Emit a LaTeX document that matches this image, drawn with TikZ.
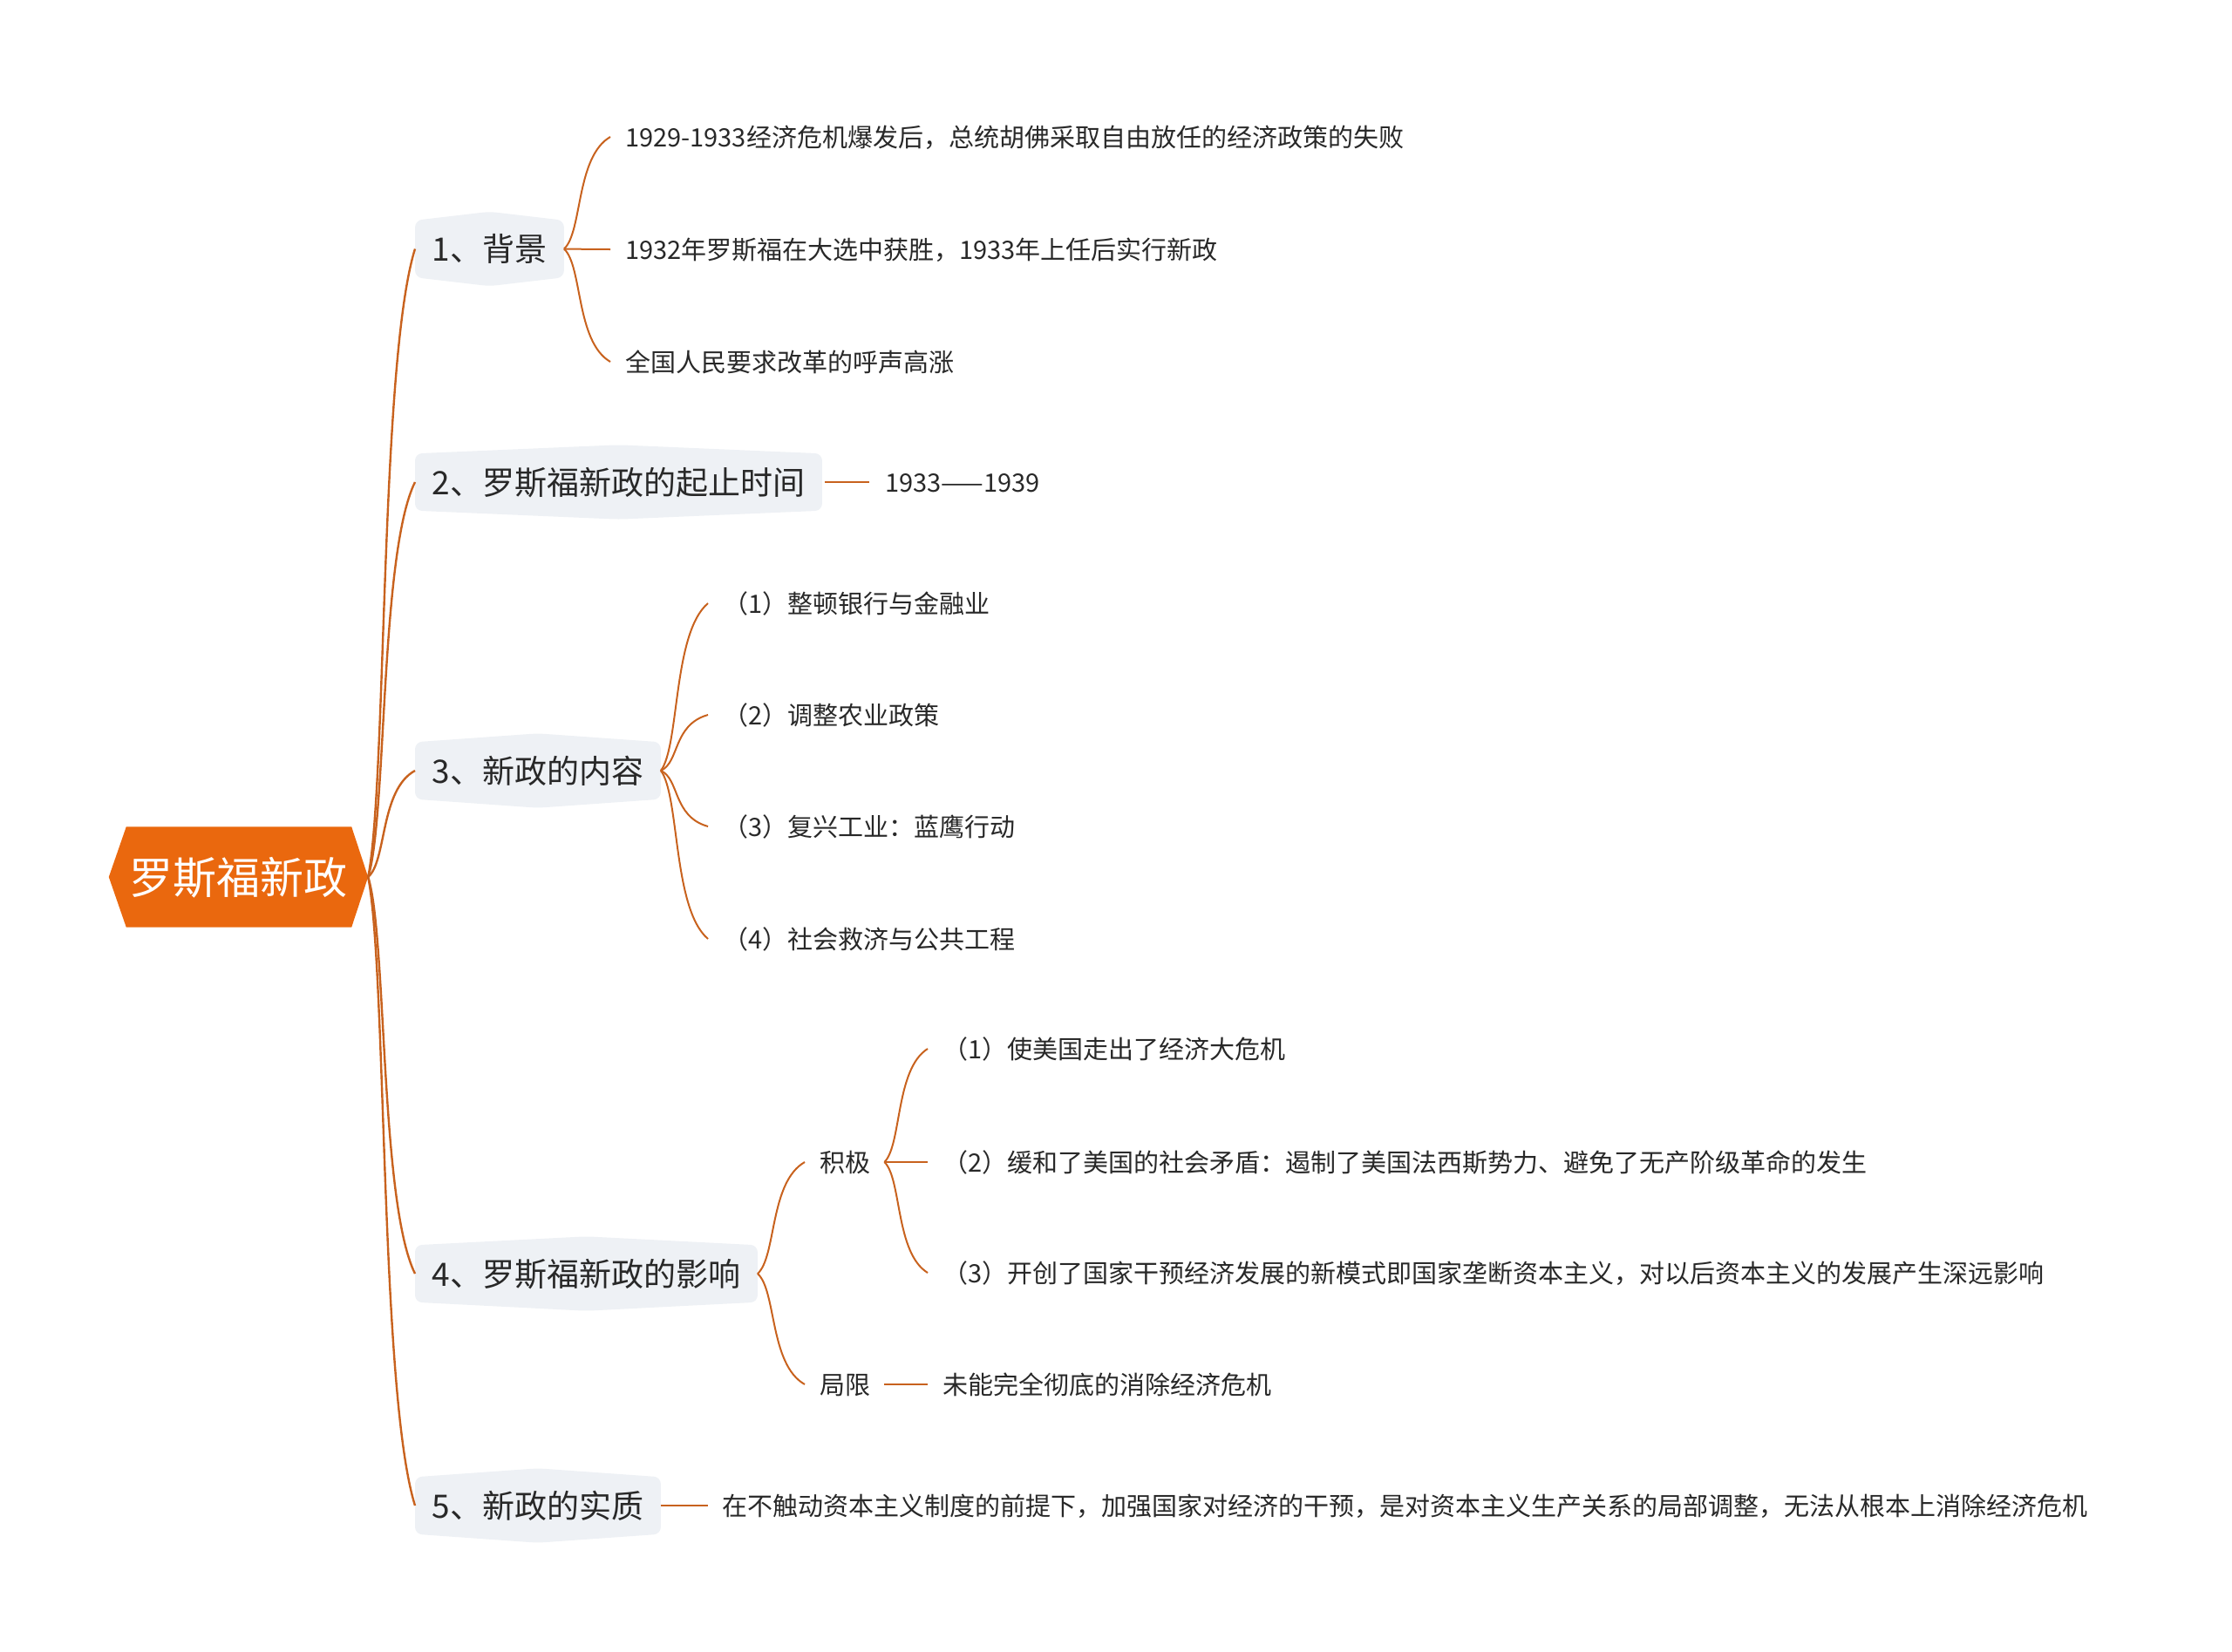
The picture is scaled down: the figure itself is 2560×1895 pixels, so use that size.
\documentclass[tikz,border=0pt]{standalone}
\usepackage{fontspec}
\setmainfont{Noto Sans CJK SC}
\usetikzlibrary{calc,backgrounds}
\definecolor{linec}{RGB}{200,98,30}
\definecolor{rootc}{RGB}{234,104,14}
\definecolor{boxc}{RGB}{238,241,245}
\definecolor{txtc}{RGB}{40,40,40}
\tikzset{
  conn/.style={draw=linec, line width=2pt},
  rootconn/.style={draw=linec, line width=2.4pt},
  rootnode/.style={inner sep=0pt, minimum width=297pt, minimum height=115pt, text=white,
    font=\fontsize{50}{60}\selectfont, text height=44pt, text depth=6pt},
  branch/.style={anchor=west, inner xsep=19.5pt, inner ysep=0pt, minimum height=85pt, text=txtc,
    font=\fontsize{37}{44}\selectfont, text height=32.6pt, text depth=4.4pt},
  leaf/.style={anchor=west, inner sep=0pt, text=txtc,
    font=\fontsize{29}{35}\selectfont, text height=25.5pt, text depth=3.5pt},
}
\newcommand\mmcurve[3][conn]{\draw[#1] let \p1=(#2), \p2=(#3) in (\p1) .. controls ({\x1+0.4*(\x2-\x1)},{\y1+0.15*(\y2-\y1)}) and ({\x1+0.25*(\x2-\x1)},{\y1+0.82*(\y2-\y1)}) .. (\p2);}
\newcommand\branchbg[1]{\fill[boxc, rounded corners=8pt] ([yshift=-10pt]#1.north west) -- (#1.north) -- ([yshift=-10pt]#1.north east) -- ([yshift=10pt]#1.south east) -- (#1.south) -- ([yshift=10pt]#1.south west) -- cycle;}
\begin{document}
\begin{tikzpicture}[x=1pt,y=-1pt]
\useasboundingbox (0,0) rectangle (2560,1895);
% root
\node[rootnode] (root) at (273.5,1006) {罗斯福新政};
% branches
\node[branch] (b1) at (476,285.5) {1、背景};
\node[branch] (b2) at (476,553) {2、罗斯福新政的起止时间};
\node[branch] (b3) at (476,884) {3、新政的内容};
\node[branch] (b4) at (476,1461) {4、罗斯福新政的影响};
\node[branch] (b5) at (476,1727) {5、新政的实质};
% leaves of 1
\node[leaf] (l11) at (717,157) {1929-1933经济危机爆发后，总统胡佛采取自由放任的经济政策的失败};
\node[leaf] (l12) at (717,286) {1932年罗斯福在大选中获胜，1933年上任后实行新政};
\node[leaf] (l13) at (717,415) {全国人民要求改革的呼声高涨};
% leaf of 2
\node[leaf] (l21) at (1015,553) {1933——1939};
% leaves of 3
\node[leaf] (l31) at (829,692) {（1）整顿银行与金融业};
\node[leaf] (l32) at (829,820) {（2）调整农业政策};
\node[leaf] (l33) at (829,948) {（3）复兴工业：蓝鹰行动};
\node[leaf] (l34) at (829,1077) {（4）社会救济与公共工程};
% 4
\node[leaf] (pos) at (940,1333) {积极};
\node[leaf] (neg) at (940,1588) {局限};
\node[leaf] (p1) at (1081,1203) {（1）使美国走出了经济大危机};
\node[leaf] (p2) at (1081,1333) {（2）缓和了美国的社会矛盾：遏制了美国法西斯势力、避免了无产阶级革命的发生};
\node[leaf] (p3) at (1081,1460) {（3）开创了国家干预经济发展的新模式即国家垄断资本主义，对以后资本主义的发展产生深远影响};
\node[leaf] (n1) at (1081,1588) {未能完全彻底的消除经济危机};
% 5
\node[leaf] (l51) at (828,1727) {在不触动资本主义制度的前提下，加强国家对经济的干预，是对资本主义生产关系的局部调整，无法从根本上消除经济危机};

\begin{scope}[on background layer]
\fill[rootc] (root.west) -- ([xshift=20pt]root.north west) -- ([xshift=-19pt]root.north east) -- (root.east) -- ([xshift=-19pt]root.south east) -- ([xshift=20pt]root.south west) -- cycle;
\branchbg{b1}
\branchbg{b2}
\branchbg{b3}
\branchbg{b4}
\branchbg{b5}
\end{scope}

% root connectors
\mmcurve[rootconn]{root.east}{b1.west}
\mmcurve[rootconn]{root.east}{b2.west}
\mmcurve[rootconn]{root.east}{b3.west}
\mmcurve[rootconn]{root.east}{b4.west}
\mmcurve[rootconn]{root.east}{b5.west}
% 1
\mmcurve{b1.east}{[xshift=-17pt]l11.west}
\mmcurve{b1.east}{[xshift=-17pt]l12.west}
\mmcurve{b1.east}{[xshift=-17pt]l13.west}
% 2
\draw[conn] ([xshift=3pt]b2.east) -- ([xshift=-18pt]l21.west);
% 3
\mmcurve{b3.east}{[xshift=-17pt]l31.west}
\mmcurve{b3.east}{[xshift=-17pt]l32.west}
\mmcurve{b3.east}{[xshift=-17pt]l33.west}
\mmcurve{b3.east}{[xshift=-17pt]l34.west}
% 4
\mmcurve{b4.east}{[xshift=-17pt]pos.west}
\mmcurve{b4.east}{[xshift=-17pt]neg.west}
\mmcurve{[xshift=16pt]pos.east}{[xshift=-17pt]p1.west}
\mmcurve{[xshift=16pt]pos.east}{[xshift=-17pt]p2.west}
\mmcurve{[xshift=16pt]pos.east}{[xshift=-17pt]p3.west}
\draw[conn] ([xshift=16pt]neg.east) -- ([xshift=-17pt]n1.west);
% 5
\draw[conn] (b5.east) -- ([xshift=-16pt]l51.west);
\end{tikzpicture}
\end{document}
